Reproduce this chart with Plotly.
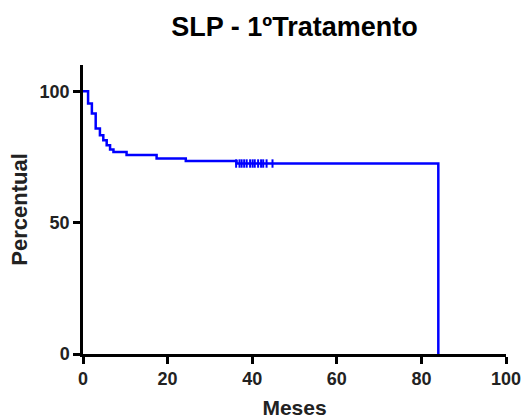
import plotly.graph_objects as go

# Kaplan-Meier step data (months, percent surviving)
months = [0, 1.2, 2.1, 3.0, 4.0, 4.8, 5.6, 6.4, 7.2, 10.3, 17.4, 24.3, 36.3, 84.0]
survival = [100, 95.3, 91.5, 85.8, 83.3, 81.4, 79.5, 77.8, 76.9, 75.7, 74.4, 73.5, 72.5, 0]

# censored observations
censored_months = [36.2, 37.0, 37.5, 38.1, 38.7, 39.5, 40.1, 40.6, 41.4, 42.1, 42.6, 43.4, 44.8]
censored_survival = [72.5] * len(censored_months)

x_ticks = [0, 20, 40, 60, 80, 100]
y_ticks = [0, 50, 100]

FONT = "Liberation Sans, Arial, Helvetica, sans-serif"
BLUE = "#0000FF"

fig = go.Figure()
fig.add_trace(go.Scatter(
    x=months, y=survival, mode="lines", line_shape="hv",
    line=dict(color=BLUE, width=2.5), cliponaxis=False, showlegend=False,
))
fig.add_trace(go.Scatter(
    x=censored_months, y=censored_survival, mode="markers",
    marker=dict(symbol="line-ns", size=6, line=dict(color=BLUE, width=2)),
    cliponaxis=False, showlegend=False,
))

fig.update_layout(
    width=523, height=419,
    margin=dict(l=83, r=17, t=65, b=65),
    paper_bgcolor="white", plot_bgcolor="white",
    font=dict(family=FONT, color="#111111"),
    title=dict(text="<b>SLP - 1ºTratamento</b>", x=0.5, xref="paper",
               y=1 - 27 / 419, yref="container", yanchor="middle", xanchor="center",
               font=dict(size=27, family=FONT, color="black")),
)
fig.update_xaxes(
    range=[0, 100], tickvals=x_ticks, ticktext=[f"<b>{v}</b>" for v in x_ticks],
    showline=True, linecolor="black", linewidth=2.5,
    ticks="outside", ticklen=7, tickwidth=2.5, tickcolor="black",
    showgrid=False, zeroline=False, automargin=False,
    tickfont=dict(size=18, family=FONT, color="#222222"),
    title=dict(text="<b>Meses</b>", font=dict(size=21, family=FONT, color="#222222"), standoff=13),
)
fig.update_yaxes(
    range=[0, 110], tickvals=y_ticks, ticktext=[f"<b>{v}</b>" for v in y_ticks],
    showline=True, linecolor="black", linewidth=2.5,
    ticks="outside", ticklen=7, tickwidth=2.5, tickcolor="black",
    showgrid=False, zeroline=False, automargin=False,
    tickfont=dict(size=18, family=FONT, color="#222222"),
    title=dict(text="<b>Percentual</b>", font=dict(size=22, family=FONT, color="#222222"), standoff=6),
)

fig.write_html("out.html", config={"displayModeBar": False},
               post_script="document.body.style.margin='0';")
